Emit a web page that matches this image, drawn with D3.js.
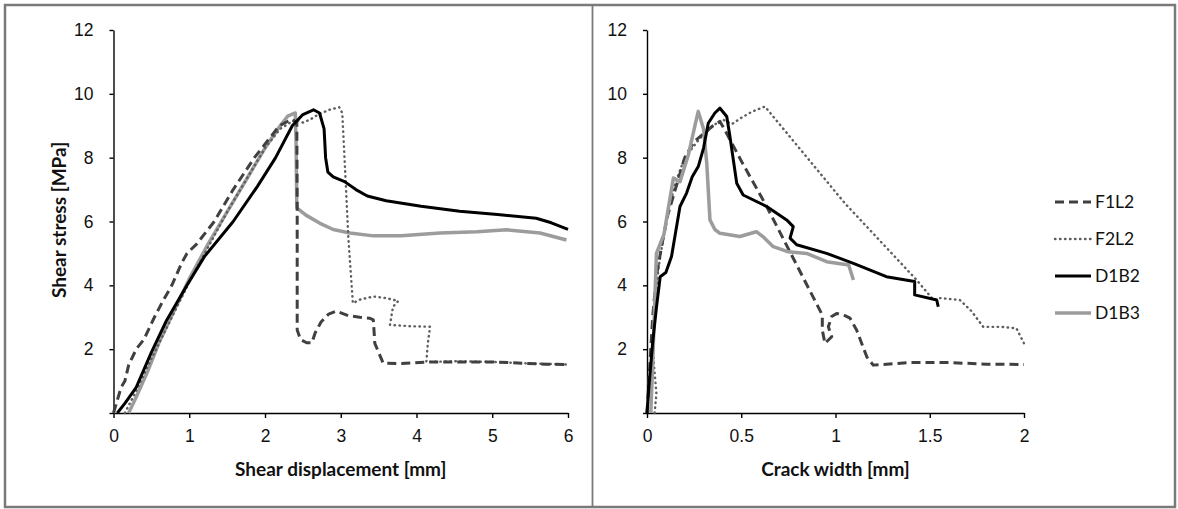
<!DOCTYPE html>
<html>
<head>
<meta charset="utf-8">
<script src="https://cdn.jsdelivr.net/npm/d3@7"></script>
<style>
  body { margin: 0; background: #fff; }
  svg { display: block; font-family: Lato, "Open Sans", sans-serif; }
  .tick text { font-size: 17.5px; fill: #111; }
  .axisTitle { font-size: 19px; font-weight: bold; fill: #111; }
  .legendText { font-size: 17.5px; fill: #111; }
</style>
</head>
<body>
<div id="chart"></div>
<script>
"use strict";

// Tick values / labels
const stressTicks = [0, 2, 4, 6, 8, 10, 12];
const slipTicks = [0, 1, 2, 3, 4, 5, 6];
const crackTicks = [0, 0.5, 1, 1.5, 2];

const seriesNames = ["F1L2", "F2L2", "D1B2", "D1B3"];

// Left panel: shear stress vs shear displacement  [mm, MPa]
const f1l2Slip = [[0,0],[0.05,0.4],[0.1,0.8],[0.15,1.0],[0.2,1.5],[0.3,2.0],[0.4,2.3],[0.54,3.0],[0.65,3.5],[0.77,4.0],
  [0.9,4.7],[0.97,5.0],[1.1,5.3],[1.33,6.0],[1.58,7.0],[1.86,8.0],[2.19,9.0],[2.35,9.2],[2.42,9.1],[2.425,6.5],
  [2.425,2.6],[2.47,2.3],[2.55,2.2],[2.62,2.2],[2.66,2.5],[2.74,2.85],[2.84,3.1],[2.94,3.19],[3.1,3.05],[3.25,3.0],
  [3.38,2.97],[3.43,2.92],[3.45,2.18],[3.5,1.9],[3.56,1.56],[3.8,1.55],[4.2,1.6],[4.6,1.6],[5.0,1.6],[5.4,1.56],[5.7,1.53],[6.0,1.52]];
const f2l2Slip = [[0.15,0],[0.3,0.7],[0.5,1.7],[0.75,2.9],[1.0,4.1],[1.25,5.2],[1.5,6.3],[1.75,7.3],[2.0,8.3],[2.2,8.9],
  [2.4,9.2],[2.5,9.1],[2.6,9.2],[2.7,9.35],[2.85,9.5],[2.98,9.58],[3.02,9.4],[3.06,7.5],[3.1,5.5],[3.16,3.44],
  [3.25,3.55],[3.43,3.65],[3.6,3.6],[3.76,3.51],[3.69,3.33],[3.65,2.76],[3.9,2.72],[4.18,2.7],[4.15,2.2],[4.13,1.6],
  [4.5,1.62],[5.0,1.6],[5.5,1.55],[6.0,1.52]];
const d1b2Slip = [[0.05,0],[0.15,0.3],[0.3,0.8],[0.5,1.9],[0.7,2.9],[0.97,4.0],[1.2,4.9],[1.58,6.0],[1.9,7.1],[2.14,8.0],
  [2.36,9.0],[2.5,9.35],[2.64,9.5],[2.72,9.4],[2.78,8.9],[2.8,8.0],[2.83,7.55],[2.9,7.4],[3.05,7.25],[3.2,7.0],
  [3.35,6.8],[3.6,6.65],[4.06,6.48],[4.57,6.32],[5.07,6.22],[5.58,6.1],[5.78,5.96],[6.0,5.75]];
const d1b3Slip = [[0.2,0],[0.3,0.5],[0.45,1.3],[0.6,2.2],[0.8,3.2],[1.0,4.2],[1.25,5.3],[1.5,6.3],[1.75,7.3],[2.0,8.3],
  [2.2,9.0],[2.3,9.3],[2.4,9.4],[2.41,8.5],[2.42,6.43],[2.54,6.2],[2.72,5.95],[2.9,5.75],[3.12,5.64],[3.43,5.55],
  [3.8,5.55],[4.31,5.64],[4.8,5.68],[5.19,5.74],[5.63,5.64],[5.98,5.42]];

// Right panel: shear stress vs crack width  [mm, MPa]
const f1l2Crack = [[0,0],[0.01,1.0],[0.03,3.0],[0.05,4.3],[0.08,5.3],[0.11,6.2],[0.15,7.0],[0.2,8.0],[0.25,8.5],[0.3,8.75],
  [0.35,9.0],[0.387,9.13],[0.41,8.9],[0.5,7.9],[0.635,6.47],[0.78,4.8],[0.93,3.07],[0.93,2.6],[0.944,2.18],[0.98,2.39],
  [0.962,2.7],[0.98,3.02],[1.006,3.12],[1.05,3.05],[1.077,2.97],[1.112,2.6],[1.166,1.76],[1.2,1.5],[1.4,1.58],
  [1.6,1.58],[1.8,1.53],[2.0,1.52]];
const f2l2Crack = [[0.04,0],[0.05,0.6],[0.04,1.3],[0.03,2.0],[0.04,3.0],[0.06,4.5],[0.1,6.0],[0.15,7.2],[0.2,8.0],
  [0.28,8.6],[0.35,9.0],[0.4,9.2],[0.45,9.05],[0.5,9.25],[0.56,9.45],[0.626,9.6],[1.05,6.57],[1.43,4.17],[1.52,3.54],
  [1.555,3.6],[1.66,3.54],[1.72,3.2],[1.784,2.7],[1.88,2.7],[1.96,2.65],[2.0,2.18]];
const d1b2Crack = [[0,0],[0.01,0.8],[0.03,2.2],[0.05,3.3],[0.07,4.27],[0.1,4.4],[0.13,4.9],[0.15,5.6],[0.175,6.47],
  [0.21,6.89],[0.24,7.4],[0.272,7.72],[0.3,8.3],[0.325,9.08],[0.36,9.4],[0.387,9.55],[0.423,9.29],[0.44,8.66],
  [0.476,7.2],[0.51,6.83],[0.635,6.47],[0.741,6.05],[0.776,5.84],[0.759,5.48],[0.794,5.27],[0.953,5.0],[1.095,4.69],
  [1.27,4.27],[1.42,4.12],[1.42,3.7],[1.537,3.54],[1.545,3.33]];
const d1b3Crack = [[0.02,0],[0.03,1.5],[0.05,5.0],[0.09,5.6],[0.14,7.36],[0.175,7.25],[0.22,8.1],[0.26,9.15],[0.272,9.45],
  [0.3,8.9],[0.317,7.83],[0.334,6.05],[0.36,5.75],[0.387,5.63],[0.493,5.53],[0.58,5.68],[0.62,5.5],[0.67,5.21],
  [0.75,5.05],[0.847,5.0],[0.953,4.74],[1.07,4.64],[1.095,4.17]];

const styles = {
  F1L2: {color: "#404040", width: 3, dash: "9,5", cap: "butt"},
  F2L2: {color: "#5e5e5e", width: 2.4, dash: "0.5,4.5", cap: "round"},
  D1B2: {color: "#000000", width: 3, dash: null, cap: "butt"},
  D1B3: {color: "#9c9c9c", width: 3.5, dash: null, cap: "butt"}
};

const W = 1178, H = 509;
const svg = d3.select("#chart").append("svg").attr("width", W).attr("height", H);

// frames
svg.append("rect").attr("x", 5).attr("y", 5).attr("width", 1170).attr("height", 502)
  .attr("fill", "none").attr("stroke", "#7a7a7a").attr("stroke-width", 2.5);
svg.append("line").attr("x1", 592.5).attr("x2", 592.5).attr("y1", 5).attr("y2", 507)
  .attr("stroke", "#7a7a7a").attr("stroke-width", 1.8);

const yTop = 30, yBottom = 413;

function drawPanel(x0, x1, xDomain, xTicks, xTitle, showYTitle, seriesData) {
  let xScale = d3.scaleLinear().domain(xDomain).range([x0, x1]);
  let yScale = d3.scaleLinear().domain([0, 12]).range([yBottom, yTop]);

  let xAxis = d3.axisBottom(xScale).tickValues(xTicks).tickSize(5).tickSizeOuter(0).tickPadding(12)
    .tickFormat(d3.format("~g"));
  let yAxis = d3.axisLeft(yScale).tickValues(stressTicks).tickSize(4).tickSizeOuter(0).tickPadding(16)
    .tickFormat(d => d === 0 ? "" : d);

  let gx = svg.append("g").attr("transform", `translate(0,${yBottom})`).call(xAxis);
  let gy = svg.append("g").attr("transform", `translate(${x0},0)`).call(yAxis);
  [gx, gy].forEach(g => {
    g.select(".domain").attr("stroke", "#000").attr("stroke-width", 1.4);
    g.selectAll(".tick line").attr("stroke", "#000").attr("stroke-width", 1.4);
    g.selectAll(".tick text").attr("font-family", null).attr("font-size", null);
  });

  svg.append("text").attr("class", "axisTitle")
    .attr("text-anchor", "middle")
    .attr("x", (x0 + x1) / 2).attr("y", 476)
    .text(xTitle);

  if (showYTitle) {
    svg.append("text").attr("class", "axisTitle")
      .attr("text-anchor", "middle")
      .attr("transform", `translate(66,220)rotate(-90)`)
      .text("Shear stress [MPa]");
  }

  let line = d3.line().x(d => xScale(d[0])).y(d => yScale(d[1]));
  seriesData.forEach(s => {
    let st = styles[s.name];
    svg.append("path")
      .attr("d", line(s.values))
      .attr("fill", "none")
      .attr("stroke", st.color)
      .attr("stroke-width", st.width)
      .attr("stroke-dasharray", st.dash)
      .attr("stroke-linejoin", "round")
      .attr("stroke-linecap", st.cap);
  });
}

// draw order: lighter under darker
drawPanel(113.5, 568, [0, 6], slipTicks, "Shear displacement [mm]", true, [
  {name: "D1B3", values: d1b3Slip},
  {name: "F2L2", values: f2l2Slip},
  {name: "F1L2", values: f1l2Slip},
  {name: "D1B2", values: d1b2Slip}
]);
drawPanel(647, 1024, [0, 2], crackTicks, "Crack width [mm]", false, [
  {name: "F2L2", values: f2l2Crack},
  {name: "F1L2", values: f1l2Crack},
  {name: "D1B3", values: d1b3Crack},
  {name: "D1B2", values: d1b2Crack}
]);

// legend
const legendRows = [202, 239, 276, 313];
seriesNames.forEach((name, i) => {
  let st = styles[name];
  let y = legendRows[i];
  svg.append("line").attr("x1", 1055).attr("x2", 1091).attr("y1", y).attr("y2", y)
    .attr("stroke", st.color).attr("stroke-width", st.width)
    .attr("stroke-dasharray", st.dash)
    .attr("stroke-linecap", st.cap);
  svg.append("text").attr("class", "legendText")
    .attr("x", 1095).attr("y", y + 6)
    .text(name);
});
</script>
</body>
</html>
